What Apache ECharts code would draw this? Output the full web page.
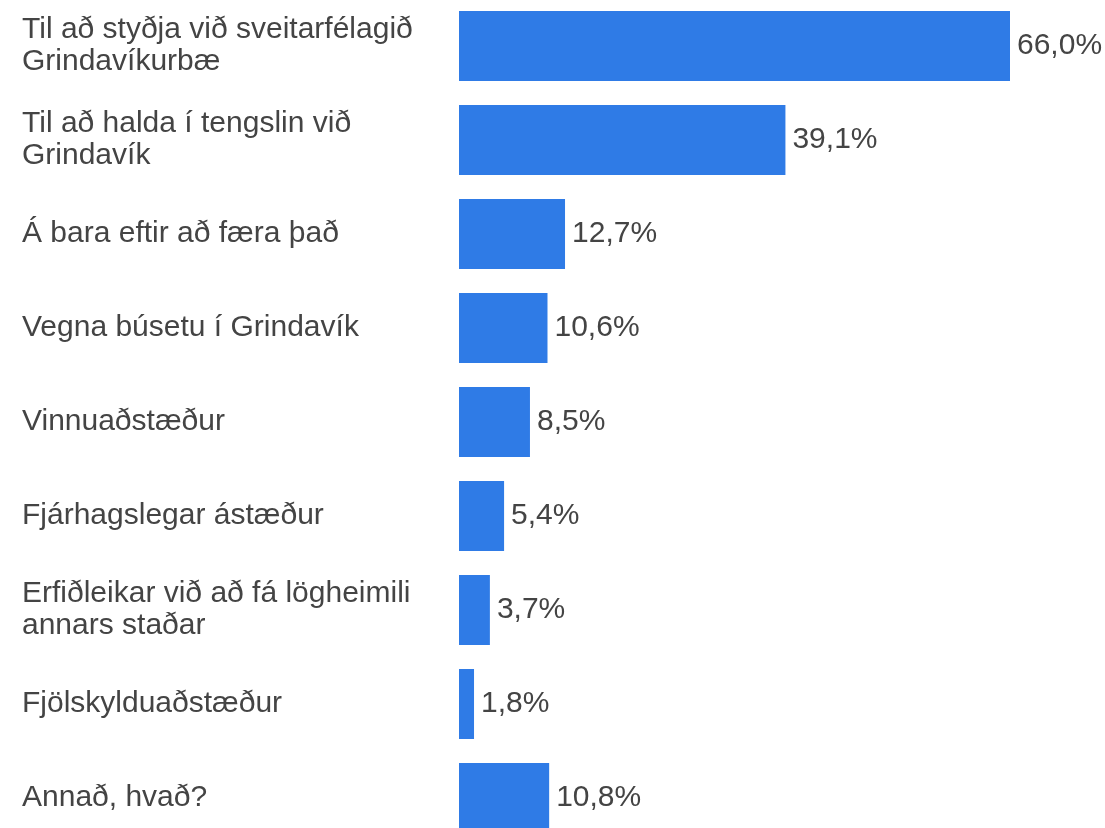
<!DOCTYPE html>
<html>
<head>
<meta charset="utf-8">
<script src="https://cdn.jsdelivr.net/npm/echarts@6/dist/echarts.min.js"></script>
<style>
  html, body { margin: 0; padding: 0; background: #fff; }
  #main { width: 1105px; height: 828px; }
</style>
</head>
<body>
<div id="main"></div>
<script>
// flokkar og gildi (%)
var categories = [
  'Til að styðja við sveitarfélagið\nGrindavíkurbæ',
  'Til að halda í tengslin við\nGrindavík',
  'Á bara eftir að færa það',
  'Vegna búsetu í Grindavík',
  'Vinnuaðstæður',
  'Fjárhagslegar ástæður',
  'Erfiðleikar við að fá lögheimili\nannars staðar',
  'Fjölskylduaðstæður',
  'Annað, hvað?'
];
var values = [66.0, 39.1, 12.7, 10.6, 8.5, 5.4, 3.7, 1.8, 10.8];

var myChart = echarts.init(document.getElementById('main'));
var option = {
  animation: false,
  grid: { left: 459, right: 95, top: -1, height: 846, outerBoundsMode: 'none', containLabel: false },
  xAxis: {
    type: 'value',
    min: 0,
    max: 66,
    show: false
  },
  yAxis: {
    type: 'category',
    inverse: true,
    data: categories,
    axisLine: { show: false },
    axisTick: { show: false },
    axisLabel: {
      align: 'left',
      margin: 437,
      color: '#444444',
      fontFamily: 'Liberation Sans, Arial, sans-serif',
      fontSize: 30,
      lineHeight: 32,
      padding: [5, 0, 0, 0]
    }
  },
  series: [
    {
      type: 'bar',
      data: values,
      barWidth: 70,
      itemStyle: { color: '#2F7BE6' },
      label: {
        show: true,
        position: 'right',
        distance: 7,
        color: '#444444',
        fontFamily: 'Liberation Sans, Arial, sans-serif',
        fontSize: 30,
        padding: [4, 0, 0, 0],
        formatter: function (p) { return p.value.toFixed(1).replace('.', ',') + '%'; }
      }
    }
  ]
};
myChart.setOption(option);
</script>
</body>
</html>
